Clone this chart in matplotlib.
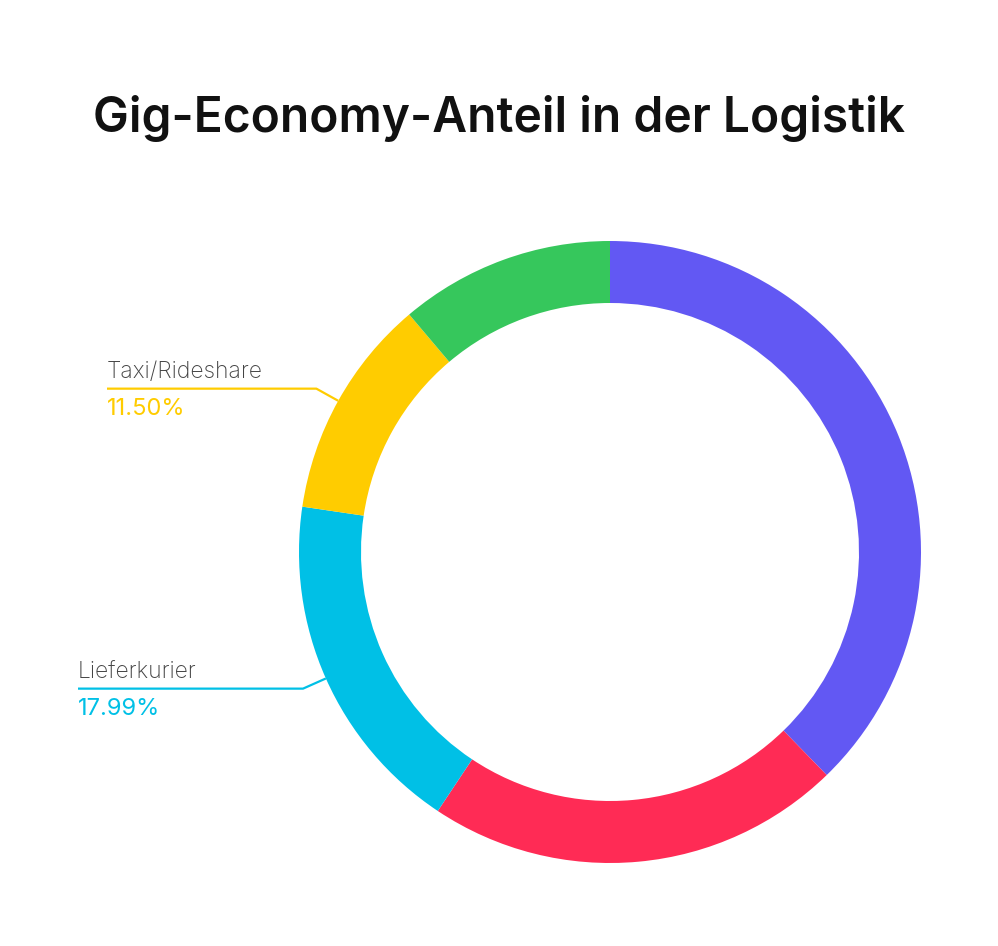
import numpy as np
from matplotlib import pyplot as plt

# donut data, clockwise from 12 o'clock
categories = ["Plattform-Lieferdienste", "Paketzustellung", "Lieferkurier", "Taxi/Rideshare", "Lagerlogistik"]
shares = [37.73, 21.61, 17.99, 11.50, 11.17]
colors = ["#6258F3", "#FF2B55", "#00C0E6", "#FFCC00", "#36C75C"]
show_label = [False, False, True, True, False]

W, H = 998, 946
cx, cy = 610, H - 552
r_out, r_in = 311, 249

fig = plt.figure(figsize=(W / 100, H / 100), dpi=100)
ax = fig.add_axes([0, 0, 1, 1])

ax.pie(shares, colors=colors, startangle=90, counterclock=False,
       center=(cx, cy), radius=r_out, frame=True,
       wedgeprops=dict(width=r_out - r_in, linewidth=0))
ax.set_xlim(0, W)
ax.set_ylim(0, H)
ax.set_aspect("equal")
ax.axis("off")

fig.text(0.5, 1 - 118 / H, "Gig-Economy-Anteil in der Logistik", ha="center", va="center",
         fontsize=34.5, fontweight="semibold", family=["Inter", "DejaVu Sans"], color="#111111")

# leader lines and labels
text_x = {"Taxi/Rideshare": 107, "Lieferkurier": 78}
start = 0.0
total = sum(shares)
for name, val, col, show in zip(categories, shares, colors, show_label):
    mid = start + val / 2
    start += val
    if not show:
        continue
    ang = np.deg2rad(90 - mid / total * 360)
    x0, y0 = cx + r_out * np.cos(ang), cy + r_out * np.sin(ang)
    x1, y1 = cx + (r_out + 25) * np.cos(ang), cy + (r_out + 25) * np.sin(ang)
    tx = text_x[name]
    ax.plot([x0, x1, tx], [y0, y1, y1], color=col, lw=1.6, solid_capstyle="butt")
    ax.text(tx, y1 + 6, name, ha="left", va="bottom", fontsize=16.5, fontweight="light",
            family=["Inter", "DejaVu Sans"], color="#444444")
    ax.text(tx, y1 - 9, f"{val:.2f}%", ha="left", va="top", fontsize=17,
            family=["Inter", "DejaVu Sans"], color=col)

plt.savefig("out.png", dpi=100, facecolor="white")
